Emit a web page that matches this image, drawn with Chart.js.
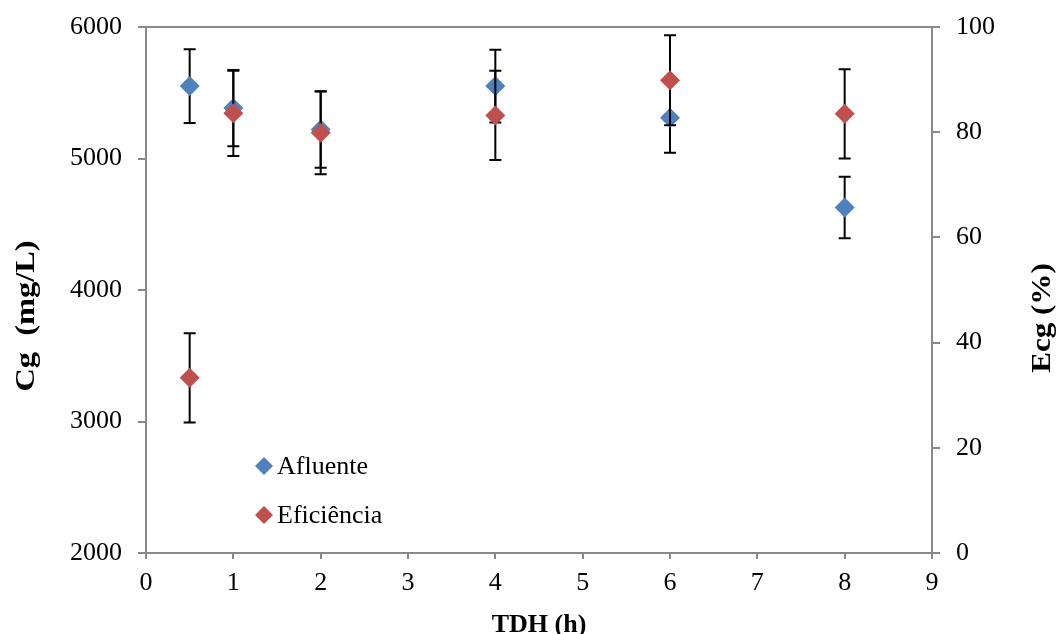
<!DOCTYPE html>
<html>
<head>
<meta charset="utf-8">
<script src="https://cdn.jsdelivr.net/npm/chart.js@4/dist/chart.umd.min.js"></script>
<style>
  html, body { margin: 0; padding: 0; background: #fff; }
  #wrap { width: 1059px; height: 634px; position: relative; }
</style>
</head>
<body>
<div id="wrap"><canvas id="c"></canvas></div>
<script>
// ---- data ----
const tdh = [0.5, 1, 2, 4, 6, 8];
const afluente = [5551, 5384, 5220, 5551, 5310, 4627];
const afluenteErr = [281, 290, 290, 277, 266, 234];
const eficiencia = [33.3, 83.6, 79.9, 83.2, 89.9, 83.5];
const eficienciaErr = [8.5, 8.1, 7.9, 8.5, 8.55, 8.5];
const xTickValues = [0, 1, 2, 3, 4, 5, 6, 7, 8, 9];
const leftTickValues = [2000, 3000, 4000, 5000, 6000];
const rightTickValues = [0, 20, 40, 60, 80, 100];
const seriesNames = ['Afluente', 'Eficiência'];
const xTitle = 'TDH (h)';
const leftTitle = 'Cg  (mg/L)';
const rightTitle = 'Ecg (%)';

const BLUE = '#4F81BD';
const RED = '#C0504D';
const AXIS = '#898989';
const FONT = 'Liberation Serif';

const errors = [afluenteErr, eficienciaErr];

const errorBarPlugin = {
  id: 'errorBars',
  beforeDatasetDraw(chart, args) {
    const ds = chart.data.datasets[args.index];
    const yScale = chart.scales[ds.yAxisID];
    const errs = errors[args.index];
    const ctx = chart.ctx;
    ctx.save();
    ctx.strokeStyle = '#000';
    ctx.lineWidth = 2;
    args.meta.data.forEach((pt, i) => {
      const v = ds.data[i].y;
      const yTop = yScale.getPixelForValue(v + errs[i]);
      const yBot = yScale.getPixelForValue(v - errs[i]);
      const x = pt.x;
      ctx.beginPath();
      ctx.moveTo(x, yTop); ctx.lineTo(x, yBot);
      ctx.moveTo(x - 6, yTop); ctx.lineTo(x + 6, yTop);
      ctx.moveTo(x - 6, yBot); ctx.lineTo(x + 6, yBot);
      ctx.stroke();
    });
    ctx.restore();
  }
};

const framePlugin = {
  id: 'frame',
  afterDraw(chart) {
    const ctx = chart.ctx;
    const a = chart.chartArea;
    ctx.save();
    // top border
    ctx.strokeStyle = AXIS;
    ctx.lineWidth = 2;
    ctx.beginPath();
    ctx.moveTo(a.left - 1, a.top);
    ctx.lineTo(a.right + 1, a.top);
    ctx.stroke();

    // y axis titles
    ctx.fillStyle = '#000';
    ctx.textAlign = 'center';
    ctx.textBaseline = 'middle';
    ctx.font = 'bold 27px "' + FONT + '"';
    ctx.save();
    ctx.translate(27, 316);
    ctx.rotate(-Math.PI / 2);
    ctx.scale(1.2, 1);
    ctx.fillText(leftTitle, 0, 0);
    ctx.restore();
    ctx.save();
    ctx.translate(1043, 318);
    ctx.rotate(-Math.PI / 2);
    ctx.scale(1.15, 1);
    ctx.fillText(rightTitle, 0, 0);
    ctx.restore();

    // legend
    const items = [
      { name: seriesNames[0], color: BLUE, y: 466 },
      { name: seriesNames[1], color: RED, y: 515 }
    ];
    ctx.font = '26px "' + FONT + '"';
    ctx.textAlign = 'left';
    items.forEach(it => {
      const cx = 264, r = 9;
      ctx.fillStyle = it.color;
      ctx.beginPath();
      ctx.moveTo(cx - r, it.y); ctx.lineTo(cx, it.y - r);
      ctx.lineTo(cx + r, it.y); ctx.lineTo(cx, it.y + r);
      ctx.closePath();
      ctx.fill();
      ctx.fillStyle = '#000';
      ctx.fillText(it.name, 277, it.y + 1);
    });
    ctx.restore();
  }
};

function setTicks(values) {
  return function (scale) { scale.ticks = values.map(v => ({ value: v })); };
}

const xTickFont = { family: FONT, size: 26 };
const yTickFont = { family: FONT, size: 26, lineHeight: 0.85 };

new Chart(document.getElementById('c'), {
  type: 'scatter',
  data: {
    datasets: [
      {
        label: seriesNames[0],
        data: tdh.map((x, i) => ({ x: x, y: afluente[i] })),
        yAxisID: 'y',
        order: 2,
        backgroundColor: BLUE,
        borderColor: BLUE,
        borderWidth: 0,
        pointStyle: 'rectRot',
        pointRadius: 10,
        pointHoverRadius: 10
      },
      {
        label: seriesNames[1],
        data: tdh.map((x, i) => ({ x: x, y: eficiencia[i] })),
        yAxisID: 'y2',
        order: 1,
        backgroundColor: RED,
        borderColor: RED,
        borderWidth: 0,
        pointStyle: 'rectRot',
        pointRadius: 10,
        pointHoverRadius: 10
      }
    ]
  },
  options: {
    responsive: true,
    maintainAspectRatio: false,
    animation: false,
    events: [],
    layout: { padding: { top: 27, left: 0, right: 0, bottom: 0 } },
    plugins: {
      legend: { display: false },
      tooltip: { enabled: false }
    },
    scales: {
      x: {
        type: 'linear',
        position: 'bottom',
        min: 0, max: 9,
        afterBuildTicks: setTicks(xTickValues),
        afterFit(s) { s.height = 81; },
        grid: { drawOnChartArea: false, drawTicks: true, tickLength: 6, color: AXIS, lineWidth: 2 },
        border: { display: true, color: AXIS, width: 2 },
        ticks: { font: xTickFont, color: '#000', padding: 9, callback: v => String(v) },
        title: {
          display: true, text: xTitle, color: '#000',
          font: { family: FONT, size: 26, weight: 'bold', lineHeight: 0.7 },
          padding: { top: 0, bottom: 0 }
        }
      },
      y: {
        type: 'linear',
        position: 'left',
        min: 2000, max: 6000,
        afterBuildTicks: setTicks(leftTickValues),
        afterFit(s) { s.width = 146; },
        grid: { drawOnChartArea: false, drawTicks: true, tickLength: 8, color: AXIS, lineWidth: 2 },
        border: { display: true, color: AXIS, width: 2 },
        ticks: { font: yTickFont, color: '#000', padding: 16, callback: v => String(v) }
      },
      y2: {
        type: 'linear',
        position: 'right',
        min: 0, max: 100,
        afterBuildTicks: setTicks(rightTickValues),
        afterFit(s) { s.width = 127; },
        grid: { drawOnChartArea: false, drawTicks: true, tickLength: 8, color: AXIS, lineWidth: 2 },
        border: { display: true, color: AXIS, width: 2 },
        ticks: { font: yTickFont, color: '#000', padding: 16, callback: v => String(v) }
      }
    }
  },
  plugins: [errorBarPlugin, framePlugin]
});
</script>
</body>
</html>
